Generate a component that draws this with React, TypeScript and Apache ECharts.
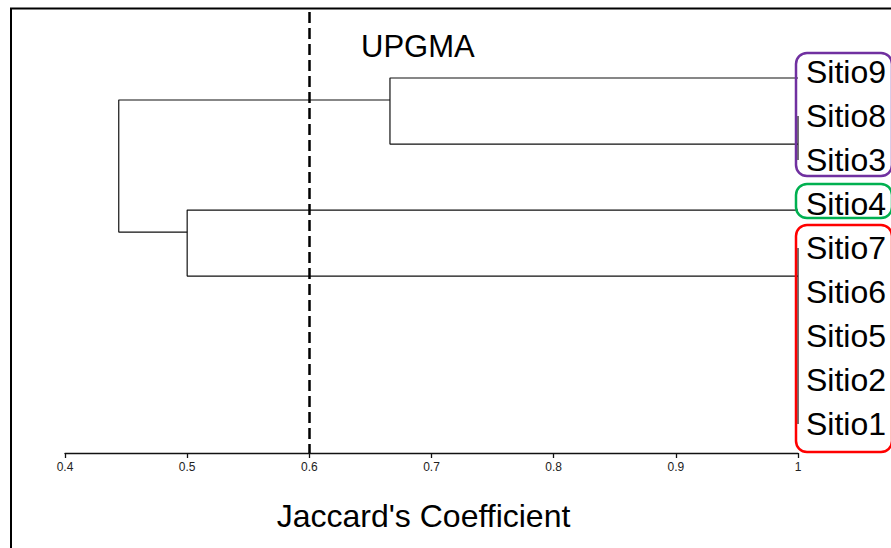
import React, { useEffect, useRef } from 'react';
import * as echarts from 'echarts';

// ---- data ----
const sites = ['Sitio9', 'Sitio8', 'Sitio3', 'Sitio4', 'Sitio7', 'Sitio6', 'Sitio5', 'Sitio2', 'Sitio1'];
// terminal branches of the dendrogram (top to bottom), each joined at similarity 1
const branchMembers = [['Sitio9'], ['Sitio8', 'Sitio3'], ['Sitio4'], ['Sitio7', 'Sitio6', 'Sitio5', 'Sitio2', 'Sitio1']];
const leafSimilarity = 1;
// UPGMA merges: left child, right child, Jaccard similarity at merge (L = terminal branch, N = merge)
const mergeLeft = ['L0', 'L2', 'N0'];
const mergeRight = ['L1', 'L3', 'N1'];
const mergeSimilarity = [0.666, 0.5, 0.444];
const cutSimilarity = 0.6;
// highlighted clusters (first and last member)
const clusterFirst = ['Sitio9', 'Sitio4', 'Sitio7'];
const clusterLast = ['Sitio3', 'Sitio4', 'Sitio1'];

const clusterStyle = [
  { color: '#7030A0', padTop: 19, padBottom: 16 },
  { color: '#00B050', padTop: 20, padBottom: 14 },
  { color: '#FF0000', padTop: 23, padBottom: 28 },
];

const FONT = '"Liberation Sans", Arial, sans-serif';

export default function App() {
  const ref = useRef<HTMLDivElement>(null);
  useEffect(() => {
    if (!ref.current) return;
    const chart = echarts.init(ref.current, null, { renderer: 'svg' });

    // node positions in dendrogram coordinates
    const pos: Record<string, [number, number]> = {};
    branchMembers.forEach((_, j) => {
      pos['L' + j] = [leafSimilarity, j + 1];
    });
    const dendroSeries: any[] = [];
    mergeSimilarity.forEach((h, i) => {
      const a = pos[mergeLeft[i]];
      const b = pos[mergeRight[i]];
      dendroSeries.push({
        type: 'line',
        xAxisIndex: 0,
        yAxisIndex: 0,
        symbol: 'none',
        silent: true,
        lineStyle: { color: '#111', width: 1.2 },
        data: [
          [a[0], a[1]],
          [h, a[1]],
          [h, b[1]],
          [b[0], b[1]],
        ],
      });
      pos['N' + i] = [h, a[1] + (b[1] - a[1]) / 3];
    });

    const innerSeries: any[] = branchMembers
      .filter((m) => m.length > 1)
      .map((m) => ({
        type: 'line',
        xAxisIndex: 1,
        yAxisIndex: 1,
        symbol: 'none',
        silent: true,
        lineStyle: { color: '#111', width: 1.2 },
        data: [
          [leafSimilarity, sites.indexOf(m[0])],
          [leafSimilarity, sites.indexOf(m[m.length - 1])],
        ],
      }));

    dendroSeries[0].markLine = {
      silent: true,
      symbol: 'none',
      label: { show: false },
      lineStyle: { color: '#000', width: 2.5, type: [11, 5] },
      data: [{ xAxis: cutSimilarity }],
    };

    chart.setOption({
      animation: false,
      backgroundColor: '#fff',
      textStyle: { fontFamily: FONT },
      title: {
        text: 'UPGMA',
        left: 356,
        top: 26,
        padding: 5,
        textStyle: { fontSize: 31, fontWeight: 'normal', color: '#000', fontFamily: FONT },
      },
      grid: [
        { left: 65, right: 93, top: 12, bottom: 95 },
        { left: 65, right: 93, top: 50, height: 396 },
      ],
      xAxis: [
        {
          type: 'value',
          gridIndex: 0,
          position: 'bottom',
          min: 0.4,
          max: 1,
          interval: 0.1,
          splitLine: { show: false },
          axisLine: { show: true, onZero: false, lineStyle: { color: '#111', width: 1.3 } },
          axisTick: { show: true, length: 5, lineStyle: { color: '#111', width: 1.3 } },
          axisLabel: { fontSize: 12, color: '#222', margin: 8, fontFamily: FONT },
          name: "Jaccard's Coefficient",
          nameLocation: 'middle',
          nameGap: 47,
          nameTextStyle: { fontSize: 32, color: '#000', fontFamily: FONT, padding: [0, 16, 0, 0] },
        },
        {
          type: 'value',
          gridIndex: 1,
          min: 0.4,
          max: 1,
          show: false,
        },
      ],
      yAxis: [
        {
          type: 'value',
          gridIndex: 0,
          min: 0,
          max: 6.68,
          inverse: true,
          show: false,
        },
        {
          type: 'category',
          gridIndex: 1,
          data: sites,
          inverse: true,
          position: 'right',
          axisLine: { show: false },
          axisTick: { show: false },
          splitLine: { show: false },
          axisLabel: { fontSize: 32, color: '#000', margin: 8, fontFamily: FONT },
        },
      ],
      series: [...dendroSeries, ...innerSeries],
    });

    const graphics: any[] = [
      {
        type: 'rect',
        silent: true,
        z: 200,
        shape: { x: 11, y: 8.5, width: 1000, height: 1000 },
        style: { fill: 'none', stroke: '#000', lineWidth: 2 },
      },
    ];
    const xLeft = (chart.convertToPixel({ gridIndex: 1 }, [leafSimilarity, 0]) as number[])[0] - 2;
    clusterFirst.forEach((first, i) => {
      const yA = (chart.convertToPixel({ gridIndex: 1 }, [leafSimilarity, sites.indexOf(first)]) as number[])[1];
      const yB = (chart.convertToPixel({ gridIndex: 1 }, [leafSimilarity, sites.indexOf(clusterLast[i])]) as number[])[1];
      const st = clusterStyle[i];
      const top = yA - st.padTop;
      const bottom = yB + st.padBottom;
      graphics.push({
        type: 'rect',
        silent: true,
        z: 150,
        shape: { x: xLeft, y: top, width: 96, height: bottom - top, r: 11 },
        style: { fill: 'none', stroke: st.color, lineWidth: 2.5 },
      });
    });
    chart.setOption({ graphic: graphics });

    return () => chart.dispose();
  }, []);
  return (
    <div
      ref={ref}
      style={{ position: 'fixed', left: 0, top: 0, width: 891, height: 548, background: '#fff' }}
    />
  );
}
